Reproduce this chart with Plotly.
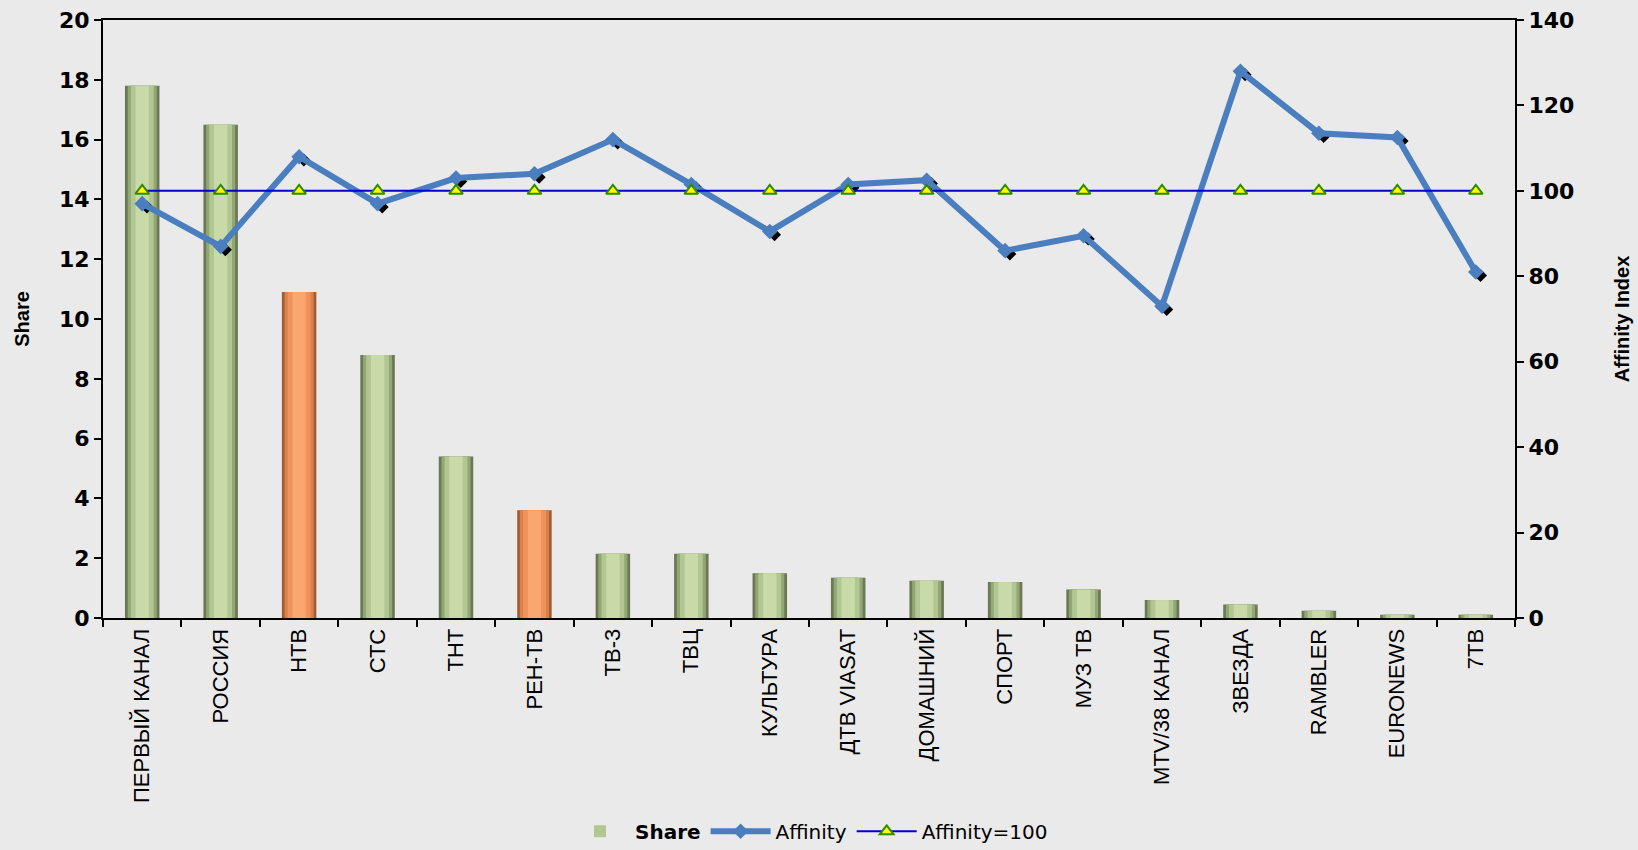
import plotly.graph_objects as go

channels = ["ПЕРВЫЙ КАНАЛ", "РОССИЯ", "НТВ", "СТС", "ТНТ", "РЕН-ТВ", "ТВ-3", "ТВЦ",
            "КУЛЬТУРА", "ДТВ VIASAT", "ДОМАШНИЙ", "СПОРТ", "МУЗ ТВ", "MTV/38 КАНАЛ",
            "ЗВЕЗДА", "RAMBLER", "EURONEWS", "7ТВ"]
share = [17.8, 16.5, 10.9, 8.8, 5.4, 3.6, 2.15, 2.15, 1.5, 1.35, 1.25, 1.2,
         0.95, 0.6, 0.45, 0.24, 0.11, 0.11]
affinity = [97, 87, 108, 97, 103, 104, 112, 101.5, 90.5, 101.5, 102.5, 86,
            89.5, 73, 128, 113.5, 112.5, 81]
affinity_base = [100, 100, 100, 100, 100, 100, 100, 100, 100, 100, 100, 100,
                 100, 100, 100, 100, 100, 100]
highlighted = ["НТВ", "РЕН-ТВ"]

# gradient imitation: layered bars, outer (dark) to inner (light)
green_layers = ["#6C7955", "#93A676", "#B2C692", "#C7DAA8"]
orange_layers = ["#A65C33", "#D8814D", "#EF925C", "#F9A66F"]
layer_widths = [0.44, 0.37, 0.29, 0.17]

fig = go.Figure()
for i, (w, g, o) in enumerate(zip(layer_widths, green_layers, orange_layers)):
    colors = [o if c in highlighted else g for c in channels]
    fig.add_trace(go.Bar(
        x=channels, y=share, width=w, name="<b>Share</b>",
        marker=dict(color=colors, line=dict(width=0)),
        showlegend=(i == 2), legendrank=1, hoverinfo="x+y",
    ))

# shadow under the affinity markers (on slightly shifted hidden axes)
fig.add_trace(go.Scatter(
    x=channels, y=affinity, xaxis="x2", yaxis="y2", mode="markers",
    marker=dict(symbol="diamond", size=10, color="#000000"),
    showlegend=False, hoverinfo="skip",
))
fig.add_trace(go.Scatter(
    x=channels, y=affinity, xaxis="x3", yaxis="y3", mode="lines+markers",
    name="Affinity", legendrank=2,
    line=dict(color="#4A7EBF", width=6),
    marker=dict(symbol="diamond", size=12, color="#4A7EBF"),
))
fig.add_trace(go.Scatter(
    x=channels, y=affinity_base, xaxis="x3", yaxis="y3", mode="lines+markers",
    name="Affinity=100", legendrank=3,
    line=dict(color="#0000CC", width=2),
    marker=dict(symbol="triangle-up", size=12, color="#FFFF00",
                line=dict(color="#2E8B00", width=2)),
))

tickfont = dict(family="DejaVu Sans", size=22, color="black", weight="bold")
n = len(channels)
fig.update_layout(
    width=1638, height=850,
    margin=dict(l=103, r=123, t=20, b=232),
    paper_bgcolor="#EAEAEA", plot_bgcolor="#EAEAEA",
    barmode="overlay",
    font=dict(family="Liberation Sans", color="black"),
    xaxis=dict(
        type="category", categoryorder="array", categoryarray=channels,
        range=[-0.5, n - 0.5],
        showline=True, linecolor="black", linewidth=2, mirror=True,
        ticks="outside", ticklen=7, tickcolor="black", tickwidth=1.5,
        tickson="boundaries", tickangle=-90,
        tickfont=dict(family="Liberation Sans", size=22, color="black"),
        showgrid=False, zeroline=False, automargin=False,
    ),
    xaxis2=dict(
        type="category", categoryorder="array", categoryarray=channels,
        range=[-0.56, n - 0.56], overlaying="x", visible=False,
        showgrid=False, zeroline=False,
    ),
    xaxis3=dict(
        type="category", categoryorder="array", categoryarray=channels,
        range=[-0.5, n - 0.5], overlaying="x", visible=False,
        showgrid=False, zeroline=False,
    ),
    yaxis=dict(
        range=[0, 20], dtick=2, showline=True, linecolor="black", linewidth=2,
        ticks="outside", ticklen=7, tickcolor="black", tickwidth=1.5,
        tickfont=tickfont, showgrid=False, zeroline=False, automargin=False,
        title=dict(text="Share", standoff=24,
                   font=dict(family="Liberation Sans", size=20, weight="bold")),
    ),
    yaxis2=dict(
        range=[0.8, 140.8], overlaying="y", visible=False,
        showgrid=False, zeroline=False,
    ),
    yaxis3=dict(
        range=[0, 140], dtick=20, overlaying="y", side="right", anchor="x3",
        showline=True, linecolor="black", linewidth=2,
        ticks="outside", ticklen=7, tickcolor="black", tickwidth=1.5,
        tickfont=tickfont, showgrid=False, zeroline=False, automargin=False,
        title=dict(text="Affinity Index", standoff=42,
                   font=dict(family="Liberation Sans", size=20, weight="bold")),
    ),
    legend=dict(
        orientation="h", x=0.5, xanchor="center",
        yref="container", y=0.022, yanchor="middle",
        font=dict(family="DejaVu Sans", size=20, color="black"),
        bgcolor="rgba(0,0,0,0)", itemwidth=60, traceorder="normal",
    ),
)

fig.write_html(
    "out.html",
    config={"displayModeBar": False},
    post_script="document.body.style.margin='0';document.body.style.background='#EAEAEA';",
)
